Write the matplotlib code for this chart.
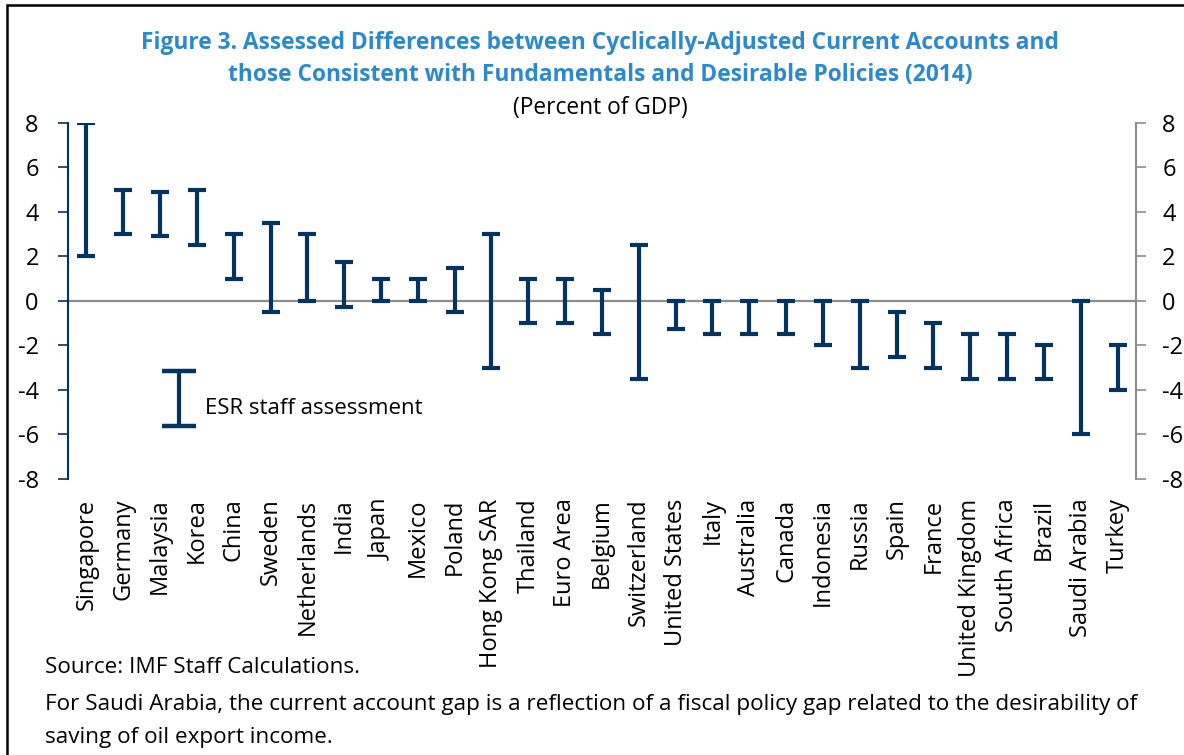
import numpy as np
import matplotlib
matplotlib.use("Agg")
import matplotlib.pyplot as plt
from matplotlib.legend_handler import HandlerErrorbar
from matplotlib.lines import Line2D
from matplotlib.patches import Rectangle

plt.rcParams['font.family'] = ['Open Sans', 'DejaVu Sans']
plt.rcParams['axes.unicode_minus'] = False

# ranges of the staff assessment (percent of GDP)
countries = ["Singapore", "Germany", "Malaysia", "Korea", "China", "Sweden",
             "Netherlands", "India", "Japan", "Mexico", "Poland", "Hong Kong SAR",
             "Thailand", "Euro Area", "Belgium", "Switzerland", "United States",
             "Italy", "Australia", "Canada", "Indonesia", "Russia", "Spain",
             "France", "United Kingdom", "South Africa", "Brazil", "Saudi Arabia",
             "Turkey"]
low = [2.0, 3.0, 2.9, 2.5, 1.0, -0.5, 0.0, -0.25, 0.0, 0.0, -0.5, -3.0,
       -1.0, -1.0, -1.5, -3.5, -1.25, -1.5, -1.5, -1.5, -2.0, -3.0, -2.5,
       -3.0, -3.5, -3.5, -3.5, -6.0, -4.0]
high = [8.0, 5.0, 4.9, 5.0, 3.0, 3.5, 3.0, 1.75, 1.0, 1.0, 1.5, 3.0,
        1.0, 1.0, 0.5, 2.5, 0.0, 0.0, 0.0, 0.0, 0.0, 0.0, -0.5,
        -1.0, -1.5, -1.5, -2.0, 0.0, -2.0]
yticks = [-8, -6, -4, -2, 0, 2, 4, 6, 8]

navy = "#03335F"
gray = "#8C8C8C"
blue = "#2B8ACB"

low = np.array(low)
high = np.array(high)
mid = (low + high) / 2
half = (high - low) / 2
x = np.arange(len(countries))


class RaisedErrorbar(HandlerErrorbar):
    # legend bar sits a little above the label text, as in the original
    def create_artists(self, legend, orig_handle, xdescent, ydescent,
                       width, height, fontsize, trans):
        return super().create_artists(legend, orig_handle, xdescent,
                                      ydescent - 10, width, height, fontsize, trans)


fig = plt.figure(figsize=(11.84, 7.55), dpi=100)
ax = fig.add_axes([0.0574, 0.3656, 0.902, 0.4715])

ax.axhline(0, color=gray, lw=1.6, zorder=1)
eb = ax.errorbar(x, mid, yerr=half, fmt='none', ecolor=navy, elinewidth=3,
                 capsize=6.3, capthick=3, zorder=3, label="ESR staff assessment")

ax.set_xlim(-0.5, len(countries) - 0.5)
ax.set_ylim(-8, 8)
ax.set_yticks(yticks)
ax.set_xticks(x)
ax.set_xticklabels(countries, rotation=90, fontsize=17)
ax.tick_params(axis='x', length=0, pad=14)
ax.tick_params(axis='y', labelsize=17, length=7, width=1.2, color=navy, pad=14)
for s in ["top", "right", "bottom"]:
    ax.spines[s].set_visible(False)
ax.spines["left"].set_color(navy)
ax.spines["left"].set_linewidth(1.5)

ax2 = ax.twinx()
ax2.set_ylim(-8, 8)
ax2.set_yticks(yticks)
ax2.tick_params(axis='y', labelsize=17, length=7, width=1.2, color=gray, pad=12)
for s in ["top", "left", "bottom"]:
    ax2.spines[s].set_visible(False)
ax2.spines["right"].set_color(gray)
ax2.spines["right"].set_linewidth(1.5)

leg = ax.legend(handles=[eb], loc="upper left", bbox_to_anchor=(0.073, 0.285),
                frameon=False, fontsize=16, handlelength=1.2, handletextpad=0.55,
                handler_map={type(eb): RaisedErrorbar(yerr_size=1.24)})
for ln in leg.findobj(Line2D):
    if ln.get_marker() == '_':
        ln.set_markersize(24)
        ln.set_markeredgewidth(3.2)

fig.text(0.507, 0.943, "Figure 3. Assessed Differences between Cyclically-Adjusted Current Accounts and",
         ha='center', va='center', fontsize=16.4, fontweight='bold', color=blue)
fig.text(0.507, 0.900, "those Consistent with Fundamentals and Desirable Policies (2014)",
         ha='center', va='center', fontsize=16.4, fontweight='bold', color=blue)
fig.text(0.507, 0.857, "(Percent of GDP)", ha='center', va='center', fontsize=16.4)

fig.text(0.038, 0.116, "Source: IMF Staff Calculations.", ha='left', va='center', fontsize=16.2)
fig.text(0.038, 0.067, "For Saudi Arabia, the current account gap is a reflection of a fiscal policy gap related to the desirability of",
         ha='left', va='center', fontsize=16.2)
fig.text(0.038, 0.023, "saving of oil export income.", ha='left', va='center', fontsize=16.2)

fig.patches.append(Rectangle((7 / 1184, -0.05), 1.2, 0.05 + 1 - 5 / 755,
                             transform=fig.transFigure, fill=False,
                             edgecolor="black", lw=1.8))

fig.savefig("out.png", dpi=100)
